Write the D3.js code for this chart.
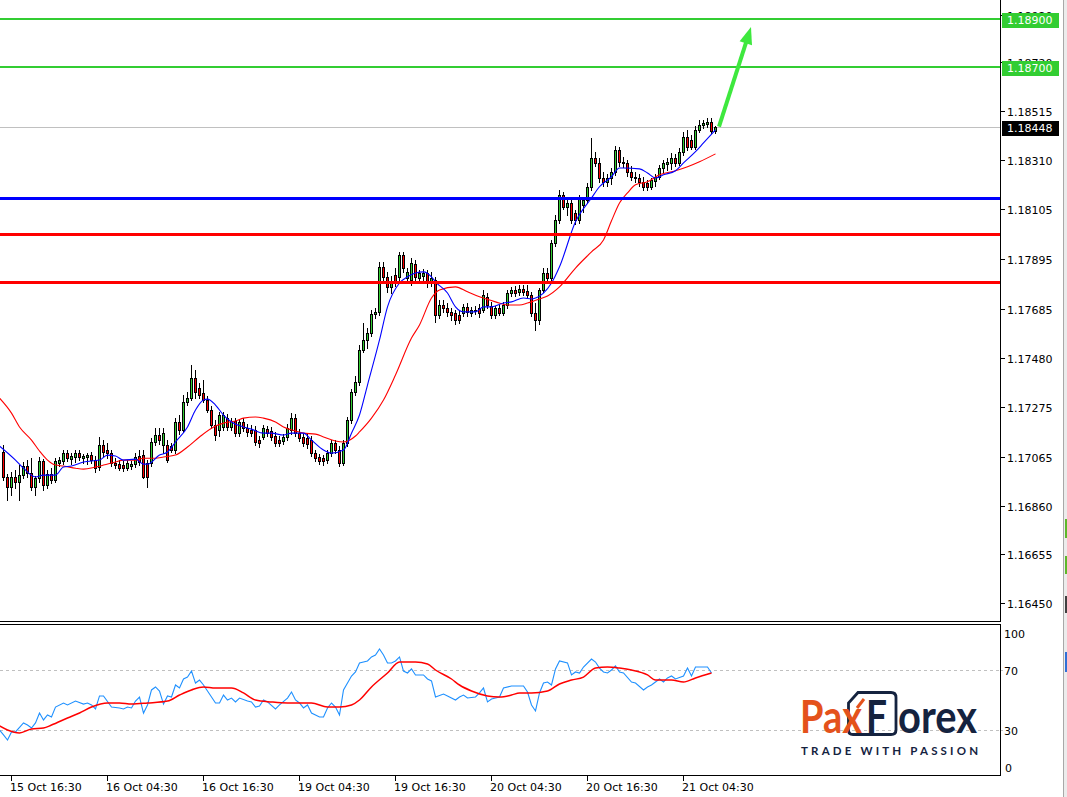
<!DOCTYPE html>
<html><head><meta charset="utf-8">
<script src="https://cdn.jsdelivr.net/npm/d3@7"></script>
<style>
html,body{margin:0;padding:0;background:#fff;overflow:hidden;}
svg{display:block;}
.ax{font-family:"DejaVu Sans",sans-serif;font-size:11px;}
</style></head><body>
<svg id="c" width="1067" height="797"></svg>
<script>
// ---------- DATA ----------
const opens=[1.17085,1.16980,1.16938,1.16980,1.16959,1.16988,1.17026,1.16996,1.16938,1.16975,
1.17047,1.16946,1.16992,1.16967,1.17038,1.17047,1.17080,1.17055,1.17064,1.17080,
1.17059,1.17064,1.17072,1.17051,1.17022,1.17114,1.17093,1.17080,1.17038,1.17034,
1.17030,1.17017,1.17026,1.17034,1.17068,1.17072,1.17038,1.17038,1.17127,1.17156,
1.17114,1.17114,1.17110,1.17093,1.17211,1.17177,1.17295,1.17311,1.17395,1.17353,
1.17332,1.17303,1.17261,1.17198,1.17177,1.17190,1.17227,1.17190,1.17215,1.17164,
1.17211,1.17185,1.17177,1.17177,1.17135,1.17148,1.17181,1.17173,1.17152,1.17135,
1.17131,1.17148,1.17177,1.17227,1.17164,1.17148,1.17143,1.17135,1.17080,1.17064,
1.17059,1.17051,1.17080,1.17122,1.17093,1.17038,1.17122,1.17219,1.17337,1.17379,
1.17513,1.17555,1.17584,1.17664,1.17673,1.17862,1.17820,1.17778,1.17828,1.17820,
1.17912,1.17815,1.17807,1.17874,1.17815,1.17824,1.17836,1.17794,1.17807,1.17660,
1.17702,1.17689,1.17673,1.17668,1.17660,1.17668,1.17694,1.17668,1.17677,1.17689,
1.17681,1.17736,1.17698,1.17660,1.17689,1.17668,1.17702,1.17752,1.17765,1.17757,
1.17769,1.17761,1.17744,1.17668,1.17639,1.17765,1.17836,1.17815,1.17962,1.18059,
1.18164,1.18114,1.18130,1.18088,1.18059,1.18122,1.18143,1.18198,1.18319,1.18298,
1.18235,1.18219,1.18235,1.18261,1.18353,1.18303,1.18298,1.18261,1.18240,1.18235,
1.18219,1.18214,1.18198,1.18223,1.18240,1.18277,1.18294,1.18298,1.18319,1.18298,
1.18345,1.18408,1.18395,1.18366,1.18437,1.18458,1.18462,1.18471,1.18433];
const highs=[1.17114,1.16992,1.17001,1.17009,1.17030,1.17043,1.17051,1.17059,1.16984,1.17064,
1.17055,1.17009,1.17017,1.17059,1.17064,1.17093,1.17093,1.17080,1.17093,1.17093,
1.17076,1.17080,1.17085,1.17068,1.17148,1.17135,1.17122,1.17093,1.17059,1.17051,
1.17047,1.17051,1.17047,1.17080,1.17093,1.17093,1.17051,1.17143,1.17185,1.17185,
1.17185,1.17135,1.17122,1.17227,1.17240,1.17324,1.17337,1.17450,1.17429,1.17374,
1.17387,1.17320,1.17278,1.17219,1.17253,1.17253,1.17244,1.17227,1.17227,1.17223,
1.17227,1.17202,1.17198,1.17194,1.17152,1.17198,1.17194,1.17190,1.17169,1.17152,
1.17160,1.17202,1.17248,1.17244,1.17181,1.17164,1.17160,1.17152,1.17093,1.17076,
1.17072,1.17093,1.17135,1.17135,1.17110,1.17135,1.17232,1.17349,1.17404,1.17534,
1.17626,1.17605,1.17681,1.17689,1.17883,1.17883,1.17841,1.17824,1.17857,1.17925,
1.17925,1.17857,1.17899,1.17891,1.17849,1.17853,1.17849,1.17841,1.17820,1.17723,
1.17723,1.17710,1.17689,1.17681,1.17677,1.17706,1.17710,1.17694,1.17698,1.17706,
1.17765,1.17752,1.17715,1.17698,1.17702,1.17715,1.17765,1.17778,1.17782,1.17786,
1.17786,1.17786,1.17757,1.17710,1.17773,1.17857,1.17857,1.17975,1.18080,1.18185,
1.18177,1.18143,1.18143,1.18101,1.18164,1.18156,1.18214,1.18403,1.18345,1.18319,
1.18261,1.18252,1.18277,1.18370,1.18366,1.18324,1.18311,1.18286,1.18261,1.18252,
1.18240,1.18227,1.18235,1.18252,1.18290,1.18311,1.18319,1.18340,1.18336,1.18361,
1.18429,1.18437,1.18416,1.18454,1.18479,1.18479,1.18487,1.18487,1.18454];
const lows=[1.16967,1.16883,1.16904,1.16933,1.16883,1.16975,1.16980,1.16925,1.16904,1.16959,
1.16925,1.16933,1.16954,1.16959,1.17026,1.17034,1.17047,1.17034,1.17043,1.17051,
1.17038,1.17034,1.17038,1.17001,1.17009,1.17068,1.17059,1.17026,1.17017,1.17009,
1.17005,1.17009,1.17013,1.17022,1.17030,1.16975,1.16938,1.17026,1.17114,1.17118,
1.17080,1.17043,1.17085,1.17080,1.17160,1.17169,1.17282,1.17303,1.17311,1.17311,
1.17295,1.17253,1.17185,1.17135,1.17152,1.17177,1.17177,1.17177,1.17152,1.17152,
1.17173,1.17152,1.17152,1.17114,1.17106,1.17139,1.17152,1.17135,1.17110,1.17110,
1.17118,1.17135,1.17160,1.17152,1.17131,1.17110,1.17101,1.17068,1.17047,1.17034,
1.17030,1.17038,1.17068,1.17080,1.17026,1.17030,1.17110,1.17206,1.17324,1.17366,
1.17505,1.17521,1.17572,1.17647,1.17660,1.17807,1.17757,1.17752,1.17782,1.17807,
1.17841,1.17803,1.17786,1.17807,1.17803,1.17807,1.17778,1.17782,1.17631,1.17647,
1.17673,1.17656,1.17639,1.17622,1.17626,1.17656,1.17656,1.17656,1.17664,1.17652,
1.17673,1.17689,1.17647,1.17647,1.17660,1.17660,1.17689,1.17740,1.17740,1.17744,
1.17744,1.17731,1.17656,1.17597,1.17622,1.17757,1.17794,1.17807,1.17950,1.18046,
1.18105,1.18080,1.18046,1.18042,1.18046,1.18093,1.18130,1.18185,1.18286,1.18219,
1.18202,1.18202,1.18210,1.18248,1.18286,1.18282,1.18244,1.18227,1.18219,1.18202,
1.18185,1.18185,1.18189,1.18202,1.18231,1.18261,1.18269,1.18273,1.18286,1.18290,
1.18332,1.18353,1.18357,1.18357,1.18429,1.18445,1.18450,1.18424,1.18424];
const closes=[1.16980,1.16938,1.16980,1.16959,1.16988,1.17026,1.16996,1.16938,1.16975,1.17047,
1.16946,1.16992,1.16967,1.17047,1.17051,1.17080,1.17059,1.17068,1.17080,1.17064,
1.17068,1.17072,1.17051,1.17017,1.17114,1.17085,1.17080,1.17038,1.17030,1.17017,
1.17017,1.17038,1.17034,1.17064,1.17043,1.16980,1.16980,1.17127,1.17156,1.17135,
1.17164,1.17051,1.17093,1.17211,1.17177,1.17295,1.17311,1.17395,1.17337,1.17324,
1.17303,1.17261,1.17198,1.17156,1.17240,1.17240,1.17190,1.17215,1.17164,1.17211,
1.17185,1.17169,1.17164,1.17127,1.17122,1.17185,1.17164,1.17148,1.17122,1.17122,
1.17148,1.17185,1.17227,1.17164,1.17143,1.17122,1.17118,1.17080,1.17059,1.17047,
1.17047,1.17080,1.17122,1.17093,1.17038,1.17122,1.17219,1.17337,1.17379,1.17513,
1.17555,1.17584,1.17664,1.17673,1.17862,1.17820,1.17778,1.17799,1.17794,1.17912,
1.17857,1.17841,1.17878,1.17820,1.17836,1.17836,1.17794,1.17815,1.17660,1.17702,
1.17689,1.17673,1.17660,1.17639,1.17639,1.17694,1.17673,1.17681,1.17681,1.17668,
1.17744,1.17702,1.17660,1.17689,1.17668,1.17702,1.17752,1.17765,1.17752,1.17769,
1.17757,1.17744,1.17668,1.17639,1.17765,1.17836,1.17815,1.17962,1.18059,1.18164,
1.18114,1.18130,1.18059,1.18059,1.18151,1.18143,1.18198,1.18319,1.18298,1.18235,
1.18219,1.18235,1.18261,1.18353,1.18303,1.18298,1.18261,1.18240,1.18235,1.18219,
1.18198,1.18198,1.18227,1.18240,1.18277,1.18298,1.18303,1.18319,1.18298,1.18345,
1.18408,1.18366,1.18366,1.18437,1.18458,1.18466,1.18471,1.18433,1.18448];

// moving averages: [bar index, price]
const maFast=[[-1,1.17110],[3,1.17051],[5,1.17017],[8,1.16980],[10,1.16988],[13,1.16988],[15,1.17022],[17,1.17026],[20,1.17043],[24,1.17051],[26,1.17072],[28,1.17068],[30,1.17051],[33,1.17055],[35,1.17034],[36,1.17034],[39,1.17072],[41,1.17085],[43,1.17127],[46,1.17190],[48,1.17261],[50,1.17303],[51,1.17307],[53,1.17282],[55,1.17240],[57,1.17211],[60,1.17190],[62,1.17181],[65,1.17164],[67,1.17164],[70,1.17156],[72,1.17164],[75,1.17164],[77,1.17135],[80,1.17093],[82,1.17080],[85,1.17093],[87,1.17164],[89,1.17240],[91,1.17366],[94,1.17555],[96,1.17694],[99,1.17794],[101,1.17820],[103,1.17836],[105,1.17841],[107,1.17820],[108,1.17799],[111,1.17752],[113,1.17694],[115,1.17673],[118,1.17673],[120,1.17694],[122,1.17694],[125,1.17710],[127,1.17715],[130,1.17731],[132,1.17727],[133,1.17731],[135,1.17752],[137,1.17794],[139,1.17862],[143,1.18051],[147,1.18151],[149,1.18198],[152,1.18240],[154,1.18277],[155,1.18277],[159,1.18273],[161,1.18256],[163,1.18235],[165,1.18248],[168,1.18265],[170,1.18298],[173,1.18345],[175,1.18382],[178,1.18437]];
const maSlow=[[-1,1.17311],[2,1.17248],[4,1.17190],[7,1.17135],[9,1.17089],[11,1.17051],[13,1.17030],[15,1.17026],[18,1.17017],[20,1.17013],[23,1.17022],[25,1.17030],[28,1.17043],[30,1.17051],[33,1.17051],[35,1.17059],[38,1.17059],[40,1.17064],[43,1.17072],[46,1.17106],[49,1.17148],[53,1.17194],[55,1.17206],[58,1.17215],[60,1.17227],[63,1.17232],[65,1.17227],[68,1.17211],[70,1.17190],[73,1.17173],[75,1.17164],[78,1.17160],[80,1.17148],[83,1.17131],[85,1.17127],[88,1.17152],[89,1.17169],[92,1.17227],[95,1.17303],[98,1.17408],[102,1.17563],[104,1.17618],[107,1.17731],[109,1.17765],[113,1.17778],[116,1.17757],[119,1.17736],[123,1.17715],[126,1.17702],[129,1.17702],[131,1.17710],[134,1.17727],[136,1.17740],[139,1.17778],[143,1.17857],[147,1.17925],[150,1.17975],[152,1.18055],[154,1.18130],[156,1.18172],[158,1.18206],[161,1.18219],[164,1.18248],[168,1.18265],[171,1.18282],[174,1.18303],[178,1.18336]];

// RSI panel: [bar index, value]
const rsiMain=[[-1,30.0],[0,26.7],[1,23.3],[2,28.7],[3,28.7],[5,34.7],[6,33.3],[7,31.3],[8,34.7],[9,41.3],[10,36.7],[11,40.0],[12,38.7],[13,45.3],[15,48.0],[16,46.7],[18,49.3],[20,47.3],[21,48.0],[22,46.7],[23,44.0],[24,52.7],[25,52.7],[27,45.3],[29,44.7],[30,44.0],[31,45.3],[32,44.7],[33,49.3],[34,52.0],[35,41.3],[36,46.7],[37,56.7],[38,58.7],[39,56.0],[40,47.3],[41,52.7],[42,52.0],[43,60.0],[44,58.0],[45,64.0],[46,65.3],[47,69.3],[48,61.3],[49,63.3],[50,60.0],[52,52.0],[53,48.0],[54,48.0],[55,53.3],[56,50.0],[57,51.3],[58,48.7],[59,51.3],[61,49.3],[62,48.7],[63,45.3],[64,46.0],[65,50.0],[66,48.7],[68,44.0],[69,46.7],[71,51.3],[72,55.3],[73,50.0],[74,48.0],[75,44.7],[76,46.7],[77,41.3],[79,38.7],[80,38.7],[81,44.7],[82,48.0],[83,45.3],[84,40.0],[85,56.7],[87,66.0],[88,68.7],[89,74.7],[91,76.0],[92,78.7],[93,80.0],[94,84.0],[95,80.0],[96,74.7],[97,74.7],[98,76.0],[99,78.7],[100,69.3],[101,68.0],[102,70.7],[103,66.7],[105,66.7],[106,64.0],[107,62.7],[108,52.0],[110,54.0],[111,52.7],[113,50.0],[114,52.0],[115,53.3],[116,51.3],[118,52.0],[119,54.7],[120,58.0],[121,48.7],[122,50.7],[124,52.0],[125,58.0],[127,59.3],[130,59.3],[131,55.3],[132,46.7],[133,42.7],[134,54.7],[135,61.3],[136,62.0],[137,60.0],[138,70.7],[139,76.0],[141,74.7],[142,66.7],[143,68.7],[144,68.0],[145,72.0],[147,77.3],[148,75.3],[149,71.3],[150,68.7],[151,68.0],[152,70.0],[153,72.7],[154,68.7],[155,68.0],[157,62.0],[158,61.3],[160,56.7],[161,58.7],[162,60.0],[164,64.0],[165,62.0],[166,64.7],[167,66.0],[168,64.0],[170,66.0],[171,71.3],[172,66.0],[173,72.0],[175,72.0],[176,72.0],[177,68.0]];
const rsiSignal=[[-1,32.7],[1,30.0],[4,28.0],[7,30.7],[10,31.3],[12,33.3],[16,38.0],[19,41.3],[22,45.3],[26,48.0],[29,48.0],[32,47.3],[36,48.0],[41,49.3],[44,53.3],[47,56.7],[50,58.7],[53,58.0],[57,58.0],[60,54.7],[63,50.0],[67,48.7],[71,48.0],[74,48.0],[77,48.0],[81,45.3],[84,45.3],[87,46.7],[89,50.0],[92,58.7],[96,68.0],[99,75.3],[103,75.3],[106,74.0],[108,70.0],[112,64.0],[114,60.0],[117,56.0],[121,52.7],[124,52.0],[127,53.3],[129,54.7],[132,54.7],[136,56.0],[139,60.7],[142,63.3],[145,65.3],[148,71.3],[151,72.0],[154,71.3],[157,70.0],[161,66.7],[163,63.3],[167,63.3],[170,62.0],[173,64.7],[177,68.0]];

const priceTicks=[1.18920,1.18720,1.18515,1.18310,1.18105,1.17895,1.17685,1.17480,1.17275,1.17065,1.16860,1.16655,1.16450];
const timeLabels=["15 Oct 16:30","16 Oct 04:30","16 Oct 16:30","19 Oct 04:30","19 Oct 16:30","20 Oct 04:30","20 Oct 16:30","21 Oct 04:30"];
const timeTickBars=[2,26,50,74,98,122,146,170];
const levelPrices=[1.1890,1.1870,1.1815,1.1800,1.1780];
const lastPrice=1.18448;
const rsiLevels=[70,30];
const rsiTicks=[100,70,30,0];
const arrowFrom=[179,1.18450];
const arrowTo=[187,1.18868];

// ---------- DRAW ----------
const svg=d3.select("#c");
const x=d3.scaleLinear().domain([0,178]).range([3,715]);
const y=d3.scaleLinear().domain([1.1645,1.1892]).range([603.3,14.7]);
const yR=d3.scaleLinear().domain([0,100]).range([775,625]);
const AX=1000, MB=622;

const defs=svg.append("defs");
defs.append("clipPath").attr("id","cm").append("rect").attr("x",0).attr("y",0).attr("width",AX).attr("height",MB);
defs.append("clipPath").attr("id","cr").append("rect").attr("x",0).attr("y",625).attr("width",AX).attr("height",150);

const main=svg.append("g").attr("clip-path","url(#cm)");
const lp=Math.round(y(lastPrice))+0.5;
main.append("line").attr("x1",0).attr("x2",AX).attr("y1",lp).attr("y2",lp).attr("stroke","#c0c0c0");

// candles
const bars=opens.map((o,i)=>({i,o,h:highs[i],l:lows[i],c:closes[i]}));
const cg=main.append("g");
bars.forEach(d=>{
  const cx=Math.round(x(d.i));
  const yh=Math.round(y(d.h)), yl=Math.round(y(d.l));
  cg.append("line").attr("x1",cx+0.5).attr("x2",cx+0.5).attr("y1",yh).attr("y2",yl+1).attr("stroke","#000").attr("stroke-width",1);
  const t=Math.round(Math.min(y(d.o),y(d.c))), b=Math.round(Math.max(y(d.o),y(d.c)));
  if(b-t<1){
    cg.append("line").attr("x1",cx-1).attr("x2",cx+2).attr("y1",t+0.5).attr("y2",t+0.5).attr("stroke","#000");
  } else {
    cg.append("rect").attr("x",cx-0.5).attr("y",t+0.5).attr("width",2).attr("height",b-t)
      .attr("fill",d.c>=d.o?"#32cd32":"#ff0000").attr("stroke","#000").attr("stroke-width",1);
  }
});

// moving averages
const maLine=d3.line().x(d=>x(d[0])+0.5).y(d=>y(d[1])).curve(d3.curveMonotoneX);
main.append("path").attr("d",maLine(maSlow)).attr("fill","none").attr("stroke","#ff0000").attr("stroke-width",1.1);
main.append("path").attr("d",maLine(maFast)).attr("fill","none").attr("stroke","#0000ff").attr("stroke-width",1.1);

// horizontal levels
const levelColor=["#32cd32","#32cd32","#0000ff","#ff0000","#ff0000"];
const levelWidth=[2,2,3,3,3];
levelPrices.forEach((p,k)=>{
  const yy=Math.round(y(p))+(levelWidth[k]%2?0.5:0);
  main.append("line").attr("x1",0).attr("x2",AX).attr("y1",yy).attr("y2",yy)
    .attr("stroke",levelColor[k]).attr("stroke-width",levelWidth[k]);
});

// arrow
{
  const x0=x(arrowFrom[0]), y0=y(arrowFrom[1]), x1=x(arrowTo[0]), y1=y(arrowTo[1]);
  const dx=x1-x0, dy=y1-y0, L=Math.hypot(dx,dy), ux=dx/L, uy=dy/L;
  const hl=17, hw=6.5;
  const bx=x1-ux*hl, by=y1-uy*hl;
  svg.append("line").attr("x1",x0).attr("y1",y0).attr("x2",bx+ux*2).attr("y2",by+uy*2)
    .attr("stroke","#3ee83e").attr("stroke-width",4);
  svg.append("path").attr("d",`M${x1},${y1}L${bx-uy*hw},${by+ux*hw}L${bx+uy*hw},${by-ux*hw}Z`).attr("fill","#3ee83e");
}

// right strip (window edge)
svg.append("rect").attr("x",1063).attr("y",0).attr("width",4).attr("height",797).attr("fill","#ececec");
svg.append("line").attr("x1",1063.5).attr("x2",1063.5).attr("y1",0).attr("y2",797).attr("stroke","#a8a8a8");
[[519,19,"#5cb82a"],[556,18,"#5cb82a"],[596,17,"#404040"],[652,20,"#2f6fd6"]].forEach(s=>{
  svg.append("rect").attr("x",1065).attr("y",s[0]).attr("width",2).attr("height",s[1]).attr("fill",s[2]);
});

// price axis
svg.append("line").attr("x1",AX+0.5).attr("x2",AX+0.5).attr("y1",0).attr("y2",MB).attr("stroke","#000");
const boxed=[levelPrices[0],levelPrices[1],lastPrice];
priceTicks.forEach((p,k)=>{
  const yy=Math.round(y(p))+0.5;
  svg.append("line").attr("x1",AX+1).attr("x2",AX+5).attr("y1",yy).attr("y2",yy).attr("stroke","#000");
  const t=svg.append("text").attr("class","ax").attr("x",1007).attr("y",y(p)+5).attr("fill","#000").text(p.toFixed(5));
  // a label that sits under a price box only peeks out above it
  const under=boxed.map(b=>y(b)).filter(v=>Math.abs(v-y(p))<10);
  if(under.length){
    const cid="tclip"+k;
    const top=Math.round(under[0]-6.5);
    defs.append("clipPath").attr("id",cid).append("rect").attr("x",1001).attr("y",top-12).attr("width",62).attr("height",12);
    t.attr("clip-path",`url(#${cid})`);
  }
});
const boxes=[[levelPrices[0],"#32cd32"],[levelPrices[1],"#32cd32"],[lastPrice,"#000"]];
boxes.forEach(b=>{
  const yy=y(b[0]);
  svg.append("rect").attr("x",1002).attr("y",Math.round(yy-6.5)).attr("width",57).attr("height",15).attr("fill",b[1]);
  svg.append("text").attr("class","ax").attr("x",1007).attr("y",Math.round(yy)+5).attr("fill","#fff").text(b[0].toFixed(5));
});

// separators
svg.append("line").attr("x1",0).attr("x2",AX+1).attr("y1",621.5).attr("y2",621.5).attr("stroke","#000");
svg.append("line").attr("x1",0).attr("x2",AX+1).attr("y1",624.5).attr("y2",624.5).attr("stroke","#000");

// RSI panel
const rp=svg.append("g").attr("clip-path","url(#cr)");
rsiLevels.forEach(v=>{
  const yy=Math.round(yR(v))+0.5;
  rp.append("line").attr("x1",0).attr("x2",AX).attr("y1",yy).attr("y2",yy).attr("stroke","#c0c0c0").attr("stroke-dasharray","3,3");
});
const rsiLineSig=d3.line().x(d=>x(d[0])+0.5).y(d=>yR(d[1])).curve(d3.curveMonotoneX);
const rsiLine=d3.line().x(d=>x(d[0])+0.5).y(d=>yR(d[1]));
rp.append("path").attr("d",rsiLine(rsiMain)).attr("fill","none").attr("stroke","#1e90ff").attr("stroke-width",1.1);
rp.append("path").attr("d",rsiLineSig(rsiSignal)).attr("fill","none").attr("stroke","#ff0000").attr("stroke-width",1.5);
svg.append("line").attr("x1",AX+0.5).attr("x2",AX+0.5).attr("y1",624).attr("y2",776).attr("stroke","#000");
rsiLevels.forEach(v=>{
  const yy=Math.round(yR(v))+0.5;
  svg.append("line").attr("x1",AX+1).attr("x2",AX+3).attr("y1",yy).attr("y2",yy).attr("stroke","#c0c0c0");
});
const rsiLabelShift={100:8,70:0,30:0,0:-8};
rsiTicks.forEach(v=>{
  svg.append("text").attr("class","ax").attr("x",v===0?1005:1004).attr("y",yR(v)+rsiLabelShift[v]+5).attr("fill","#000").text(String(v));
});

// time axis
svg.append("line").attr("x1",0).attr("x2",AX+1).attr("y1",775.5).attr("y2",775.5).attr("stroke","#000");
timeTickBars.forEach((b,k)=>{
  const xx=Math.round(x(b))+0.5;
  svg.append("line").attr("x1",xx).attr("x2",xx).attr("y1",776).attr("y2",781).attr("stroke","#000");
  svg.append("text").attr("class","ax").attr("x",Math.round(x(b))-1).attr("y",791).attr("fill","#000").text(timeLabels[k]);
});

// logo
const logo=svg.append("g");
const NAVY="#15233f", ORANGE="#e4521b";
logo.append("path").attr("d","M858,692.5H891Q896,692.5 896,697.5V730Q896,734.5 891,734.5H853Q848.5,734.5 848.5,730V703Z")
  .attr("fill","none").attr("stroke",NAVY).attr("stroke-width",2.8);
const lf="Lato, 'Open Sans', sans-serif";
[["Pax",800,62,ORANGE],["F",866,21,NAVY],["orex",898,79,NAVY]].forEach(s=>{
  logo.append("text").attr("x",s[1]).attr("y",733)
    .style("font-family",lf).style("font-weight","700").style("font-size","46px")
    .attr("fill",s[3]).attr("textLength",s[2]).attr("lengthAdjust","spacingAndGlyphs").text(s[0]);
});
logo.append("line").attr("x1",857).attr("y1",708).attr("x2",864).attr("y2",699).attr("stroke",ORANGE).attr("stroke-width",3);
logo.append("text").attr("x",801).attr("y",755)
  .style("font-family",lf).style("font-weight","700").style("font-size","11.5px").attr("fill",NAVY)
  .attr("textLength",177).attr("lengthAdjust","spacing").text("TRADE WITH PASSION");
</script>
</body></html>
